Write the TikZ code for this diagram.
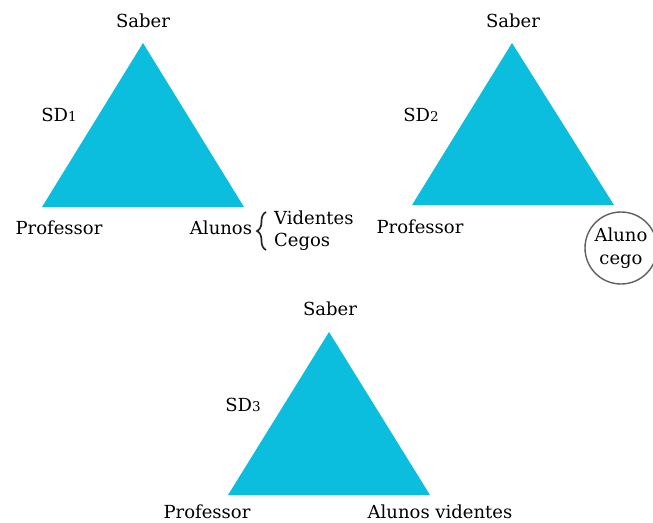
\documentclass[tikz,border=0pt]{standalone}
\usepackage{fontspec}
\setmainfont{DejaVu Serif}
\usetikzlibrary{decorations.pathreplacing}
\definecolor{tri}{RGB}{12,190,222}
\definecolor{ring}{RGB}{95,95,95}
\tikzset{
  trifill/.style={fill=tri, draw=none},
  lbl/.style={font=\fontsize{18}{21}\selectfont, inner sep=0pt, text=black},
  sd/.style={lbl}
}
\newcommand{\smalldig}[1]{{\fontsize{13.5}{14}\selectfont #1}}
\begin{document}
\begin{tikzpicture}[x=1pt,y=-1pt]
\useasboundingbox (0,0) rectangle (653,522);
% triangle 1
\coordinate (a1) at (143,43);
\coordinate (b1) at (42,207);
\coordinate (c1) at (244,207);
\fill[trifill] (a1) -- (b1) -- (c1) -- cycle;
\node[lbl] (s1) at (143,21) {Saber};
\node[sd] (sd1) at (59,115) {SD\smalldig{1}};
\node[lbl] (p1) at (59,228) {Professor};
\node[lbl] (al1) at (221,228) {Alunos};
\coordinate (br1t) at (266,212);
\coordinate (br1b) at (266,250);
\draw[decorate, decoration={brace, amplitude=9pt}, line width=1.7pt, black!85] (br1b) -- (br1t);
\node[lbl, anchor=west] (v1) at (274,218) {Videntes};
\node[lbl, anchor=west] (c1l) at (274,242) {Cegos};
% triangle 2
\coordinate (a2) at (512,43);
\coordinate (b2) at (412,205);
\coordinate (c2) at (614,205);
\fill[trifill] (a2) -- (b2) -- (c2) -- cycle;
\node[lbl] (s2) at (513,21) {Saber};
\node[sd] (sd2) at (421,115) {SD\smalldig{2}};
\node[lbl] (p2) at (420,227) {Professor};
\node[draw=ring, line width=1.4pt, circle, minimum size=72pt, inner sep=0pt, align=center, font=\fontsize{18}{23}\selectfont, text=black] (ac) at (621,248) {Aluno\\cego};
% triangle 3
\coordinate (a3) at (329,332);
\coordinate (b3) at (228,495);
\coordinate (c3) at (430,495);
\fill[trifill] (a3) -- (b3) -- (c3) -- cycle;
\node[lbl] (s3) at (330,309) {Saber};
\node[sd] (sd3) at (243,405) {SD\smalldig{3}};
\node[lbl] (p3) at (207,512) {Professor};
\node[lbl] (av3) at (440,512) {Alunos videntes};
\end{tikzpicture}
\end{document}
